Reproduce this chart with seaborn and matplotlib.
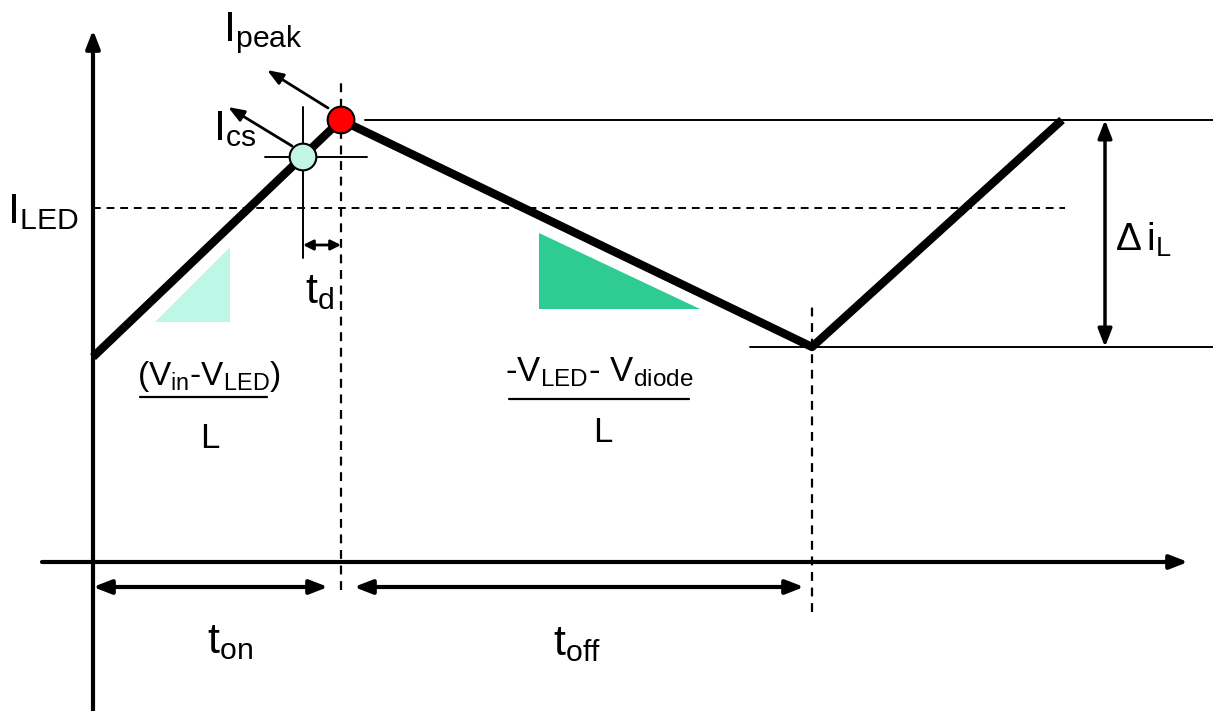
import numpy as np
import seaborn as sns
import matplotlib.pyplot as plt
import pandas as pd

# inductor current waveform (time / current in drawing units, origin at the axes crossing)
time_pts = [0, 248, 719, 969]
current_pts = [205, 442, 215, 442]
t_cs, i_cs = 210, 405          # current-sense trip point
t_peak, i_peak = 248, 442      # actual peak after delay t_d
t_valley, i_valley = 719, 215
i_led = 354                    # average LED current

sns.set_theme(style="white")
plt.rcParams["font.family"] = ["Liberation Sans", "DejaVu Sans"]
plt.rcParams["mathtext.fontset"] = "custom"
plt.rcParams["mathtext.rm"] = "Liberation Sans"
plt.rcParams["mathtext.it"] = "Liberation Sans"
plt.rcParams["text.color"] = "black"

fig = plt.figure(figsize=(12.13, 7.11), dpi=100)
ax = fig.add_axes([0, 0, 1, 1])


def arrow(x0, y0, x1, y1, style="-|>", lw=2.0, hl=0.9, hw=0.35):
    ax.annotate("", xy=(x1, y1), xytext=(x0, y0),
                arrowprops=dict(arrowstyle=f"{style},head_length={hl},head_width={hw}",
                                lw=lw, color="black", shrinkA=0, shrinkB=0))


# axes
arrow(0, -149, 0, 532, lw=3, hl=0.9, hw=0.35)
arrow(-51, 0, 1095, 0, lw=3, hl=0.9, hw=0.35)

# reference lines
dash = (0, (4, 3))
ax.plot([0, 972], [i_led, i_led], color="black", lw=1.4, ls=dash)
ax.plot([272, 1120], [i_peak, i_peak], color="black", lw=1.4)
ax.plot([657, 1120], [i_valley, i_valley], color="black", lw=1.4)
ax.plot([t_peak, t_peak], [-28, 482], color="black", lw=1.6, ls=dash)
ax.plot([t_valley, t_valley], [-50, 257], color="black", lw=1.6, ls=dash)
ax.plot([t_cs, t_cs], [304, 455], color="black", lw=1.4)
ax.plot([172, 274], [i_cs, i_cs], color="black", lw=1.4)

# slope triangles
ax.fill([62, 137, 137], [240, 315, 240], color="#bff7e6", lw=0)
ax.fill([446, 446, 607], [329, 253, 253], color="#2ecc92", lw=0)

# waveform
df = pd.DataFrame({"t": time_pts, "i": current_pts})
sns.lineplot(data=df, x="t", y="i", ax=ax, color="black", lw=6, sort=False,
             estimator=None, solid_capstyle="butt")

pts = pd.DataFrame({"t": [t_cs, t_peak], "i": [i_cs, i_peak], "k": ["cs", "peak"]})
sns.scatterplot(data=pts, x="t", y="i", hue="k", palette={"cs": "#c2f5e6", "peak": "#ff0000"},
                s=370, edgecolor="black", linewidth=1.5, ax=ax, legend=False, zorder=5)

ax.set_xlim(-93, 1120)
ax.set_ylim(-149, 562)
ax.axis("off")

# annotation arrows
arrow(235, 454, 174, 492, lw=2, hl=0.8, hw=0.3)
arrow(199, 416, 135, 455, lw=2, hl=0.8, hw=0.3)
arrow(t_cs, 317, t_peak, 317, style="<|-|>", lw=2, hl=0.5, hw=0.25)
arrow(1012, i_valley, 1012, i_peak, style="<|-|>", lw=2.5, hl=0.9, hw=0.35)
arrow(0, -25, 235, -25, style="<|-|>", lw=3, hl=0.9, hw=0.35)
arrow(261, -25, 711, -25, style="<|-|>", lw=3, hl=0.9, hw=0.35)

# labels
big = 31
ax.text(130, 529, r"$\mathregular{I_{peak}}$", fontsize=big, va="center", ha="left")
ax.text(120, 433, r"$\mathregular{I_{cs}}$", fontsize=big, va="center", ha="left")
ax.text(-86, 350, r"$\mathregular{I_{LED}}$", fontsize=big, va="center", ha="left")
ax.text(227, 270, r"$\mathregular{t_{d}}$", fontsize=big, va="center", ha="center")
ax.text(1022, 322, r"$\mathregular{\Delta\,i_{L}}$", fontsize=28, va="center", ha="left")
ax.text(137, -80, r"$\mathregular{t_{on}}$", fontsize=big, va="center", ha="center")
ax.text(484, -82, r"$\mathregular{t_{off}}$", fontsize=big, va="center", ha="center")

ax.text(116, 186, r"$\mathregular{(V_{in}\text{-}V_{LED})}$", fontsize=24, va="center", ha="center")
ax.plot([47, 174], [165, 165], color="black", lw=1.6)
ax.text(117, 124, "L", fontsize=25, va="center", ha="center")

ax.text(506, 190, r"$\mathregular{\text{-}V_{LED}\text{- }V_{diode}}$", fontsize=25, va="center", ha="center")
ax.plot([416, 596], [163, 163], color="black", lw=1.6)
ax.text(510, 130, "L", fontsize=25, va="center", ha="center")

plt.savefig("out.png", dpi=100)
